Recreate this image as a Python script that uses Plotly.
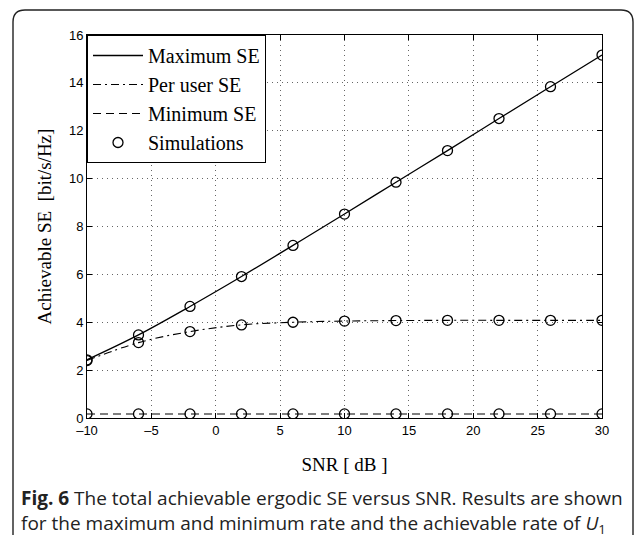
import plotly.graph_objects as go

snr = [-10, -6, -2, 2, 6, 10, 14, 18, 22, 26, 30]
max_se = [2.43, 3.47, 4.66, 5.91, 7.21, 8.52, 9.85, 11.17, 12.51, 13.84, 15.16]
per_user_se = [2.40, 3.15, 3.61, 3.89, 4.00, 4.05, 4.07, 4.08, 4.08, 4.08, 4.08]
min_se = [0.17, 0.17, 0.17, 0.17, 0.17, 0.17, 0.17, 0.17, 0.17, 0.17, 0.17]

x_ticks = [-10, -5, 0, 5, 10, 15, 20, 25, 30]
x_ticktext = ["\u201310", "\u20135", "0", "5", "10", "15", "20", "25", "30"]
y_ticks = [0, 2, 4, 6, 8, 10, 12, 14, 16]

W, H = 635, 535
L, R, T, B = 87, 33, 35, 117
pw, ph = W - L - R, H - T - B

def px(x):
    return (x - L) / pw

def py(y):
    return (H - B - y) / ph

fig = go.Figure()
fig.add_trace(go.Scatter(x=snr, y=max_se, mode="lines", name="Maximum SE",
                         line=dict(color="black", width=1.3, shape="spline"),
                         legendgroup="a"))
fig.add_trace(go.Scatter(x=snr, y=per_user_se, mode="lines", name="Per user SE",
                         line=dict(color="black", width=1.1, dash="8px,4px,2px,4px", shape="spline"),
                         legendgroup="b"))
fig.add_trace(go.Scatter(x=snr, y=min_se, mode="lines", name="Minimum SE",
                         line=dict(color="black", width=1.1, dash="8px,5px"),
                         legendgroup="c"))
mk = dict(symbol="circle-open", size=10, color="black", line=dict(width=1.3, color="black"))
for i, ys in enumerate([max_se, per_user_se, min_se]):
    fig.add_trace(go.Scatter(x=snr, y=ys, mode="markers", name="Simulations",
                             marker=mk, legendgroup="d", showlegend=(i == 0)))

# outer rounded frame
x0, x1, y0, y1, r = px(13), px(633), py(10), py(545), 12
rx, ry = r / pw, r / ph
path = (f"M {x0},{y1} L {x0},{y0 - ry} Q {x0},{y0} {x0 + rx},{y0} "
        f"L {x1 - rx},{y0} Q {x1},{y0} {x1},{y0 - ry} L {x1},{y1}")
fig.add_shape(type="path", xref="paper", yref="paper", path=path,
              line=dict(color="#222222", width=1.4), layer="above")

cap_font = dict(family="Open Sans", size=19, color="#222222")
fig.add_annotation(xref="paper", yref="paper", x=px(19), y=py(498), xanchor="left", yanchor="middle",
                   text="<b>Fig. 6</b> The total achievable ergodic SE versus SNR. Results are shown",
                   showarrow=False, font=cap_font)
fig.add_annotation(xref="paper", yref="paper", x=px(19), y=py(524), xanchor="left", yanchor="middle",
                   text="for the maximum and minimum rate and the achievable rate of <i>U</i><sub>1</sub>",
                   showarrow=False, font=cap_font)

axis_common = dict(showline=True, linecolor="black", linewidth=1, mirror="ticks",
                   ticks="inside", ticklen=5, tickcolor="black",
                   showgrid=True, gridcolor="#666666", griddash="1px,4px", gridwidth=1,
                   zeroline=False, tickfont=dict(family="Liberation Sans", size=13, color="black"))

fig.update_xaxes(range=[-10, 30], tickvals=x_ticks, ticktext=x_ticktext,
                 title=dict(text="SNR [ dB ]", font=dict(family="Liberation Serif", size=19, color="black"),
                            standoff=21),
                 **axis_common)
fig.update_yaxes(range=[0, 16], tickvals=y_ticks,
                 title=dict(text="Achievable SE  [bit/s/Hz]",
                            font=dict(family="Liberation Serif", size=19, color="black"), standoff=12),
                 **axis_common)

fig.update_layout(
    width=W, height=H,
    margin=dict(l=L, r=R, t=T, b=B),
    paper_bgcolor="white", plot_bgcolor="white",
    showlegend=True,
    legend=dict(x=0, y=1, xanchor="left", yanchor="top",
                bgcolor="white", bordercolor="black", borderwidth=1,
                font=dict(family="Liberation Serif", size=20, color="black"),
                tracegroupgap=0, traceorder="grouped", itemwidth=50),
)

fig.write_html("out.html", config={"displayModeBar": False},
               post_script="document.body.style.margin='0';")
